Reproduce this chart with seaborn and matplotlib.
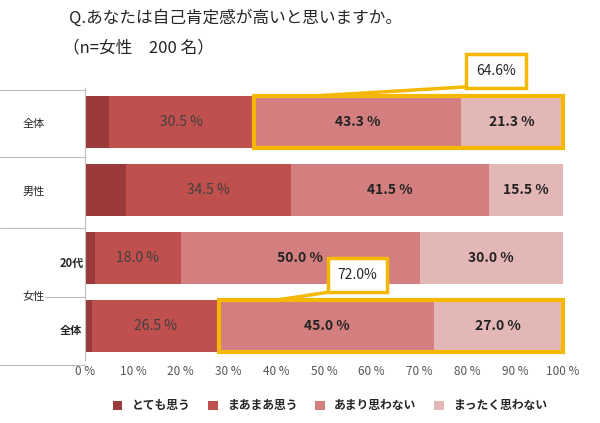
import numpy as np
import pandas as pd
import seaborn as sns
from matplotlib import pyplot as plt
from matplotlib import font_manager as fm
from matplotlib.patches import Rectangle

# make sure a CJK font is registered
cjk = None
for f in fm.findSystemFonts():
    if 'NotoSansCJK' in f.replace(' ', '') or 'NotoSansJP' in f:
        fm.fontManager.addfont(f)
        cjk = fm.FontProperties(fname=f).get_name()
        break
sns.set_style('white')
plt.rcParams['font.family'] = 'sans-serif'
plt.rcParams['font.sans-serif'] = ([cjk] if cjk else []) + ['Noto Sans CJK JP', 'DejaVu Sans']

rows = ['全体', '男性', '女性20代', '女性全体']
categories = ['とても思う', 'まあまあ思う', 'あまり思わない', 'まったく思わない']
very = [4.9, 8.5, 2.0, 1.5]
somewhat = [30.5, 34.5, 18.0, 26.5]
not_much = [43.3, 41.5, 50.0, 45.0]
not_at_all = [21.3, 15.5, 30.0, 27.0]
colors = ['#9b3a3a', '#c0504d', '#d47f7f', '#e4b7b7']

df = pd.DataFrame({'row': rows, categories[0]: very, categories[1]: somewhat,
                   categories[2]: not_much, categories[3]: not_at_all})

fig = plt.figure(figsize=(6, 4.23), dpi=100)
ax = fig.add_axes([0.142, 0.149, 0.796, 0.643])

y = np.arange(len(rows))
left = np.zeros(len(rows))
for i, cat in enumerate(categories):
    vals = df[cat].values
    ax.barh(y, vals, left=left, height=0.76, color=colors[i], label=cat, edgecolor='none')
    if i > 0:
        for yy, l, v in zip(y, left, vals):
            ax.text(l + v / 2, yy, f'{v:.1f} %', ha='center', va='center',
                    fontsize=10, color='#404040' if i == 1 else '#222222',
                    fontweight='normal' if i == 1 else 'bold')
    left = left + vals

ax.set_ylim(3.5, -0.5)
ax.set_xlim(0, 100)
ax.set_xticks(np.arange(0, 101, 10))
ax.set_xticklabels([f'{t} %' for t in range(0, 101, 10)], fontsize=8.5, color='#555555')
ax.set_yticks([])
sns.despine(ax=ax, top=True, right=True, bottom=True)
ax.spines['left'].set_color('#bfbfbf')
ax.tick_params(axis='x', length=0)

# highlight boxes
gold = '#f5b800'
cum = np.array(very) + np.array(somewhat)
for r, txt, bx in [(0, '64.6%', 86), (3, '72.0%', 57)]:
    ax.add_patch(Rectangle((cum[r], r - 0.38), 100 - cum[r], 0.76, fill=False,
                           edgecolor=gold, linewidth=3, clip_on=False, zorder=5))
    ty = r - 0.75
    ax.text(bx, ty, txt, ha='center', va='center', fontsize=10, zorder=6,
            bbox=dict(boxstyle='square,pad=0.7', fc='white', ec=gold, lw=2.5))
    ax.annotate('', xy=(cum[r] + 12, r - 0.38), xytext=(bx - 3, ty + 0.22),
                arrowprops=dict(arrowstyle='-', color=gold, lw=2.5), zorder=4)

# left row labels and separators
def fy(p):
    return 1 - p / 423
for yy in [90, 157, 228, 365]:
    fig.add_artist(plt.Line2D([0.0, 0.142], [fy(yy), fy(yy)], color='#bfbfbf', lw=0.8))
fig.add_artist(plt.Line2D([0.075, 0.142], [fy(297), fy(297)], color='#bfbfbf', lw=0.8))
fig.text(0.037, fy(124), '全体', fontsize=8, va='center')
fig.text(0.037, fy(192), '男性', fontsize=8, va='center')
fig.text(0.037, fy(297), '女性', fontsize=8, va='center')
fig.text(0.1, fy(263), '20代', fontsize=8, va='center', fontweight='bold')
fig.text(0.1, fy(330), '全体', fontsize=8, va='center', fontweight='bold')

fig.text(0.115, fy(18), 'Q.あなたは自己肯定感が高いと思いますか。', fontsize=12, va='center')
fig.text(0.105, fy(48), '（n=女性　200 名）', fontsize=12, va='center')

fig.legend(loc='lower center', bbox_to_anchor=(0.55, 0.0), ncol=4, frameon=False,
           handlelength=0.8, handleheight=0.8, columnspacing=1.5,
           prop={'weight': 'bold', 'size': 8.5})

fig.savefig('out.png', dpi=100)
